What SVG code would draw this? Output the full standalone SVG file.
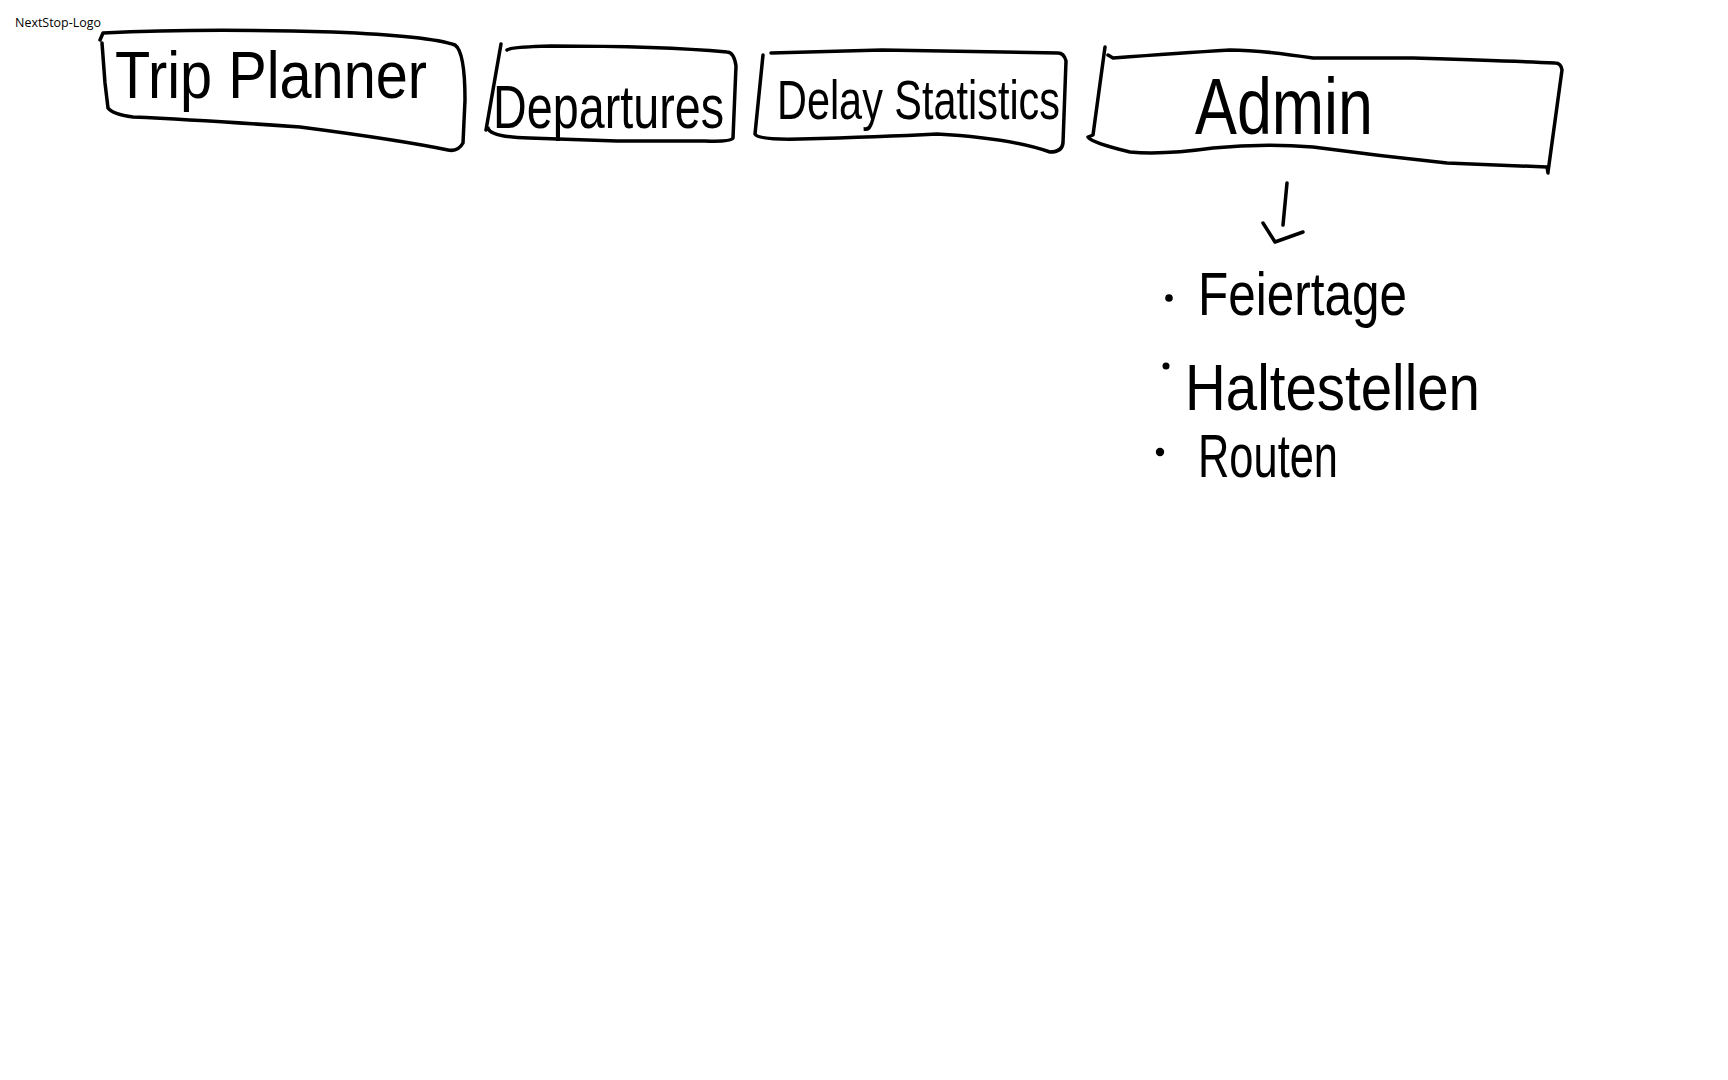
<svg xmlns="http://www.w3.org/2000/svg" width="1728" height="1080" viewBox="0 0 1728 1080">
<style>
.ink{fill:none;stroke:#000;stroke-width:3.5;stroke-linecap:round;stroke-linejoin:round}
.hand{font-family:"Liberation Sans","DejaVu Sans",sans-serif;fill:#000}
.dot{fill:#000}
.logo{font-family:"Open Sans","Liberation Sans",sans-serif;font-size:13px;fill:#000}
</style>
<rect width="1728" height="1080" fill="#fff"/>
<g id="logo"><text class="logo" x="15" y="27" textLength="86" lengthAdjust="spacingAndGlyphs">NextStop-Logo</text></g>
<g id="trip-planner">
<path class="ink" d="M100,40 L103,33 Q200,28 333,32 Q430,36 455,45 Q465,52 465,100 L463,143 Q458,152 448,150 Q400,140 300,127 Q200,120 133,117 Q112,114 108,108 L105,83 L102,43"/>
<text class="hand" x="115" y="98" font-size="66" textLength="312" lengthAdjust="spacingAndGlyphs">Trip Planner</text>
</g>
<g id="departures">
<path class="ink" d="M501,44 L486,130 M488,128 Q490,137 529,138 L617,141 L705,141 Q731,142 733,138 L736,66 Q734,52 727,52 Q661,46 551,46 Q510,47 507,50"/>
<text class="hand" x="493" y="128" font-size="62" textLength="231" lengthAdjust="spacingAndGlyphs">Departures</text>
</g>
<g id="delay-statistics">
<path class="ink" d="M763,55 L755,134 Q758,140 800,139 Q880,137 937,134 Q1010,138 1050,152 Q1062,152 1063,143 L1066,61 Q1064,53 1058,53 Q992,52 882,50 L771,53"/>
<text class="hand" x="777" y="119" font-size="56" textLength="283" lengthAdjust="spacingAndGlyphs">Delay Statistics</text>
</g>
<g id="admin">
<path class="ink" d="M1105,47 L1093,135 L1088,137 Q1092,143 1130,152 Q1163,155 1213,148 Q1263,143 1313,147 Q1380,156 1447,163 L1547,167 L1548,173 M1548,172 L1562,70 Q1561,63 1555,63 Q1513,61 1413,58 L1313,58 Q1260,50 1230,50 Q1180,53 1113,58 L1108,55"/>
<text class="hand" x="1195" y="134" font-size="80" textLength="178" lengthAdjust="spacingAndGlyphs">Admin</text>
</g>
<g id="connectors">
<path class="ink" d="M1287,183 L1283,225 M1263,223 L1275,242 L1303,232"/>
</g>
<g id="admin-items">
<g id="item-feiertage">
<circle class="dot" cx="1169" cy="298" r="3.8"/>
<text class="hand" x="1198" y="315" font-size="62" textLength="209" lengthAdjust="spacingAndGlyphs">Feiertage</text>
</g>
<g id="item-haltestellen">
<circle class="dot" cx="1166" cy="366" r="3.5"/>
<text class="hand" x="1185" y="410" font-size="64" textLength="295" lengthAdjust="spacingAndGlyphs">Haltestellen</text>
</g>
<g id="item-routen">
<circle class="dot" cx="1160" cy="452" r="4.2"/>
<text class="hand" x="1198" y="477" font-size="62" textLength="140" lengthAdjust="spacingAndGlyphs">Routen</text>
</g>
</g>
</svg>
